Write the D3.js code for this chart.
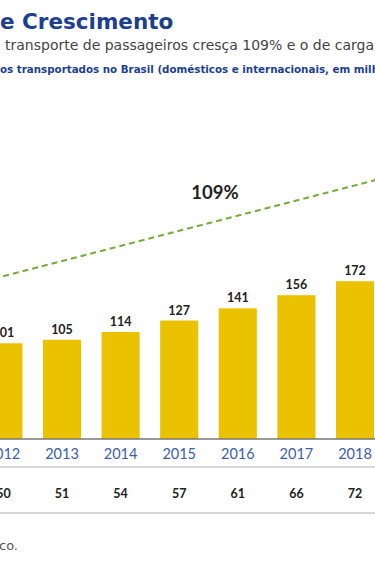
<!DOCTYPE html>
<html>
<head>
<meta charset="utf-8">
<script src="https://cdn.jsdelivr.net/npm/d3@7"></script>
<style>
  body { margin: 0; background: #fff; }
  svg { display: block; }
</style>
</head>
<body>
<div id="chart"></div>
<script>
var width = 375, height = 562;

// data
var years = ["2012", "2013", "2014", "2015", "2016", "2017", "2018"];
var passengers = [101, 105, 114, 127, 141, 156, 172];
var cargo = [50, 51, 54, 57, 61, 66, 72];
var trendYears = [2011.5, 2019];
var trendValues = [169, 299];
var growthLabel = "109%";

var svg = d3.select("#chart").append("svg")
    .attr("width", width)
    .attr("height", height);

var baseY = 439;
var step = 58.6, firstCenter = 3.4;

// band scale for the years (first band is partly off screen, like the crop)
var x = d3.scaleBand()
    .domain(years)
    .range([firstCenter - step / 2, firstCenter - step / 2 + step * years.length])
    .paddingInner(0.35)
    .paddingOuter(0.175);

var xYear = d3.scaleLinear()
    .domain([+years[0], +years[years.length - 1]])
    .range([x(years[0]) + x.bandwidth() / 2, x(years[years.length - 1]) + x.bandwidth() / 2]);

var y = d3.scaleLinear()
    .domain([-8.5, 172])
    .range([baseY, 281.2]);

// titles
svg.append("text")
    .attr("x", 0).attr("y", 29)
    .attr("font-family", "'DejaVu Sans', sans-serif")
    .attr("font-size", "21.5px")
    .attr("font-weight", "bold")
    .attr("fill", "#1d3f8e")
    .text("e Crescimento");

svg.append("text")
    .attr("x", 5).attr("y", 50)
    .attr("font-family", "'DejaVu Sans', sans-serif")
    .attr("font-size", "14px")
    .attr("fill", "#444")
    .text("transporte de passageiros cresça 109% e o de carga 44%");

svg.append("text")
    .attr("x", 0).attr("y", 73)
    .attr("font-family", "'DejaVu Sans', sans-serif")
    .attr("font-size", "10.3px")
    .attr("font-weight", "bold")
    .attr("fill", "#1d3f8e")
    .text("os transportados no Brasil (domésticos e internacionais, em milhões)");

// bars
svg.append("g")
    .selectAll("rect")
    .data(passengers)
    .enter()
    .append("rect")
    .attr("x", function(d, i) { return x(years[i]); })
    .attr("y", function(d) { return y(d); })
    .attr("width", x.bandwidth())
    .attr("height", function(d) { return baseY - y(d); })
    .attr("fill", "#ebc200");

// value labels
svg.append("g")
    .selectAll("text")
    .data(passengers)
    .enter()
    .append("text")
    .attr("x", function(d, i) { return x(years[i]) + x.bandwidth() / 2; })
    .attr("y", function(d) { return y(d) - 6; })
    .attr("text-anchor", "middle")
    .attr("font-family", "Lato, sans-serif")
    .attr("font-size", "12.5px")
    .attr("font-weight", "bold")
    .attr("fill", "#222")
    .text(function(d) { return d; });

// trend line
var trend = trendYears.map(function(yr, i) { return [xYear(yr), y(trendValues[i])]; });
svg.append("path")
    .attr("d", d3.line()(trend))
    .attr("fill", "none")
    .attr("stroke", "#78ab3c")
    .attr("stroke-width", 2)
    .attr("stroke-dasharray", "6,4");

svg.append("text")
    .attr("x", 215).attr("y", 199)
    .attr("text-anchor", "middle")
    .attr("font-family", "Lato, sans-serif")
    .attr("font-size", "18.5px")
    .attr("font-weight", "bold")
    .attr("fill", "#222")
    .text(growthLabel);

// x axis
var xAxis = svg.append("g")
    .attr("transform", "translate(0," + baseY + ")")
    .call(d3.axisBottom(x).tickSize(0).tickPadding(10));
xAxis.select(".domain").remove();
xAxis.selectAll("text")
    .attr("font-family", "Lato, sans-serif")
    .attr("font-size", "14.5px")
    .attr("fill", "#3b5ea6");

// lines of the table
svg.append("line")
    .attr("x1", 0).attr("x2", width)
    .attr("y1", baseY).attr("y2", baseY)
    .attr("stroke", "#777").attr("stroke-width", 1.5);
svg.append("line")
    .attr("x1", 0).attr("x2", width)
    .attr("y1", 467).attr("y2", 467)
    .attr("stroke", "#c8c8c8").attr("stroke-width", 1.5);
svg.append("line")
    .attr("x1", 0).attr("x2", width)
    .attr("y1", 513).attr("y2", 513)
    .attr("stroke", "#c8c8c8").attr("stroke-width", 1.5);

// cargo row
svg.append("g")
    .selectAll("text")
    .data(cargo)
    .enter()
    .append("text")
    .attr("x", function(d, i) { return x(years[i]) + x.bandwidth() / 2; })
    .attr("y", 498)
    .attr("text-anchor", "middle")
    .attr("font-family", "Lato, sans-serif")
    .attr("font-size", "12.5px")
    .attr("font-weight", "bold")
    .attr("fill", "#222")
    .text(function(d) { return d; });

svg.append("text")
    .attr("x", -1).attr("y", 550)
    .attr("font-family", "'DejaVu Sans', sans-serif")
    .attr("font-size", "13px")
    .attr("fill", "#555")
    .text("co.");
</script>
</body>
</html>
